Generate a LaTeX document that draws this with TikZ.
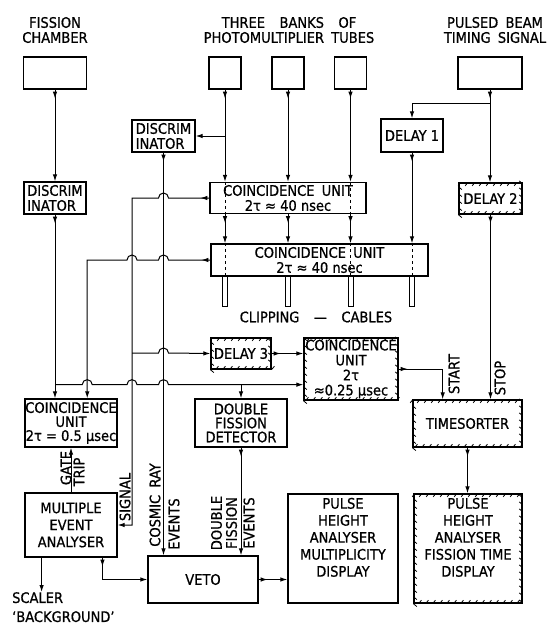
\documentclass[tikz,border=0pt]{standalone}
\usepackage{fontspec}
\setmainfont{DejaVu Sans Condensed}[FakeBold=0.8]
\usetikzlibrary{arrows.meta, calc, decorations.markings, decorations.pathreplacing}

\tikzset{
  blk/.style={draw, line width=1.3pt, rectangle, inner sep=1pt, align=center, font=\fontsize{14.5}{15}\selectfont},
  hatch/.style={decorate, line width=0.8pt, decoration={border, segment length=7pt, amplitude=-4.5pt, angle=50}},
  sig/.style={line width=1pt, -{Latex[length=7pt,width=4.5pt]}},
  flow/.style={sig, postaction={decorate}, decoration={markings, mark=at position 9pt with {\arrow{Latex[length=7pt,width=4.5pt]}}}},
  txt/.style={inner sep=0pt, align=center, font=\fontsize{14.5}{15}\selectfont},
}

\begin{document}
\begin{tikzpicture}[x=1pt, y=-1pt]
\useasboundingbox (0,0) rectangle (554,624);

% headings
\node[txt] (fclbl) at (55,30) {FISSION\\CHAMBER};
\node[txt] (pmlbl) at (289,30) {THREE\quad BANKS\quad OF\\PHOTOMULTIPLIER\enspace TUBES};
\node[txt] (pblbl) at (495,30) {PULSED\enspace BEAM\\TIMING\enspace SIGNAL};

% blocks
\node[blk, minimum width=63pt, minimum height=32pt] (fc) at (55,73) {};
\node[blk, minimum width=32pt, minimum height=32pt] (pm1) at (225,73) {};
\node[blk, minimum width=32pt, minimum height=32pt] (pm2) at (288,73) {};
\node[blk, minimum width=32pt, minimum height=32pt] (pm3) at (350.5,73) {};
\node[blk, minimum width=64pt, minimum height=32pt] (pulse) at (490,73) {};
\node[blk, minimum width=63pt, minimum height=32pt, align=left] (du) at (163.5,136) {DISCRIM\\INATOR};
\node[blk, minimum width=62pt, minimum height=32pt, align=left] (dl) at (55,198) {DISCRIM\\INATOR};
\node[blk, minimum width=62pt, minimum height=33pt] (d1) at (412,135.5) {DELAY 1};
\node[blk, minimum width=156pt, minimum height=31pt] (c1) at (288,198) {COINCIDENCE\enspace UNIT\\2τ ≈ 40 nsec};
\node[blk, minimum width=63pt, minimum height=31pt] (d2) at (490.5,198.5) {DELAY 2};
\node[blk, minimum width=217pt, minimum height=32pt] (c2) at (319.5,260) {COINCIDENCE\enspace UNIT\\2τ ≈ 40 nsec};
\node[blk, minimum width=60pt, minimum height=31pt] (d3) at (241,353.5) {DELAY 3};
\node[blk, minimum width=94pt, minimum height=62pt, inner sep=0pt] (cr) at (351,369) {COINCIDENCE\\UNIT\\2τ\\≈0.25 µsec};
\node[blk, minimum width=92pt, minimum height=48pt, inner sep=0pt, font=\fontsize{14.5}{14}\selectfont] (cl) at (71,423) {COINCIDENCE\\UNIT\\2τ = 0.5 µsec};
\node[blk, minimum width=92pt, minimum height=48pt, inner sep=0pt, font=\fontsize{14.5}{14}\selectfont] (dfd) at (241,423) {DOUBLE\\FISSION\\DETECTOR};
\node[blk, minimum width=109pt, minimum height=47pt] (ts) at (467.5,423.5) {TIMESORTER};
\node[blk, minimum width=92pt, minimum height=64pt, font=\fontsize{14.5}{17}\selectfont] (mea) at (71,525) {MULTIPLE\\EVENT\\ANALYSER};
\node[blk, minimum width=110pt, minimum height=47pt] (veto) at (203,579.5) {VETO};
\node[blk, minimum width=110pt, minimum height=109pt] (pha1) at (343,548.5) {};
\node[blk, minimum width=108pt, minimum height=109pt] (pha2) at (468,548.5) {};
\node[txt, font=\fontsize{14.5}{17}\selectfont] (pha1txt) at ($(pha1.north)+(0,44)$) {PULSE\\HEIGHT\\ANALYSER\\MULTIPLICITY\\DISPLAY};
\node[txt, font=\fontsize{14.5}{17}\selectfont] (pha2txt) at ($(pha2.north)+(0,44)$) {PULSE\\HEIGHT\\ANALYSER\\FISSION TIME\\DISPLAY};
\node[txt, align=left, anchor=north west, font=\fontsize{14.5}{19}\selectfont] (scaler) at (12,592) {SCALER\\‘BACKGROUND’};
\node[txt] (clip) at (316,317) {CLIPPING\quad —\quad CABLES};

% hatched borders
\foreach \bx in {d2, d3, cr, ts, pha2}
  \draw[hatch] (\bx.south west) rectangle (\bx.north east);

% rotated labels
\node[txt, rotate=90] (gate) at (66,468) {GATE};
\node[txt, rotate=90] (trip) at (79,472) {TRIP};
\node[txt, rotate=90] (signal) at (125,497) {SIGNAL};
\node[txt, rotate=90] (cosmic) at (155,505) {COSMIC\enspace RAY};
\node[txt, rotate=90] (evc) at (174,524) {EVENTS};
\node[txt, rotate=90] (dbl) at (224,523) {DOUBLE\\FISSION};
\node[txt, rotate=90] (evd) at (249,523) {EVENTS};
\node[txt, rotate=90] (start) at (454,374) {START};
\node[txt, rotate=90] (stop) at (500,378) {STOP};

% junctions
\coordinate (pb) at ($(pulse.south)+(0,14)$);
\coordinate (fs) at ($(dl.south)+(0,170)$);
\coordinate (sigj) at (132,353);
\coordinate (cin) at ($(cl.north west)!0.674!(cl.north east)$);
\coordinate (tsin) at ($(ts.north west)!0.275!(ts.north east)$);
\coordinate (mv) at ($(mea.south west)!0.837!(mea.south east)$);
\coordinate (ms) at ($(mea.south west)!0.185!(mea.south east)$);

% photomultipliers and coincidence units
\foreach \bx in {pm1, pm2, pm3} {
  \draw[flow] (\bx.south) -- (\bx.south |- c1.north);
  \draw[flow] (\bx.south |- c1.south) -- (\bx.south |- c2.north);
}
\foreach \bx in {pm1, pm3}
  \draw[dashed, line width=0.6pt] (\bx.south |- c1.north) -- (\bx.south |- c1.south);
\foreach \bx in {pm1, pm3, d1}
  \draw[dashed, line width=0.6pt] (\bx.south |- c2.north) -- (\bx.south |- c2.south);
\foreach \bx in {pm1, pm2, pm3, d1}
  \draw[line width=0.8pt] ($(\bx.south |- c2.south)+(-2.5,0)$) rectangle ++(5,30);
\draw[sig] (pm1.south |- du.east) -- (du.east);
\draw[flow] (du.south) -- (du.south |- veto.north);

% beam timing
\draw[flow] (pulse.south) -- (pulse.south |- d2.north);
\draw[sig] (pb) -| (d1.north);
\draw[flow] (d1.south) -- (d1.south |- c2.north);
\draw[flow] (d2.south) -- (d2.south |- ts.north);
\draw[flow] (ts.south) -- (ts.south |- pha2.north);
\draw[flow] (cr.east) -| (tsin);

% fission chamber
\draw[flow] (fc.south) -- (dl.north);
\draw[flow] (dl.south) -- (dl.south |- cl.north);
\draw[sig] (fs) -- ($(cin |- fs)+(-5,0)$) arc[start angle=180, end angle=360, radius=5]
  -- ($(sigj |- fs)+(-5,0)$) arc[start angle=180, end angle=360, radius=5]
  -- ($(du.south |- fs)+(-5,0)$) arc[start angle=180, end angle=360, radius=5]
  -- (cr.west |- fs);
\draw[sig] (dfd.north |- fs) -- (dfd.north);
\draw[flow] (dfd.south) -- (dfd.south |- veto.north);

% coincidence outputs
\draw[flow] (c1.west) -- ($(du.south |- c1.west)+(5,0)$) arc[start angle=0, end angle=-180, radius=5]
  -- (sigj |- c1.west) -- (sigj |- mea.east) -- (mea.east);
\draw[flow] (c2.west) -- ($(du.south |- c2.west)+(5,0)$) arc[start angle=0, end angle=-180, radius=5]
  -- ($(sigj |- c2.west)+(5,0)$) arc[start angle=0, end angle=-180, radius=5]
  -- (cin |- c2.west) -- (cin);
\draw[sig] (sigj) -- ($(du.south |- sigj)+(-5,0)$) arc[start angle=180, end angle=360, radius=5] -- (d3.west);
\draw[flow] (d3.east) -- (cr.west |- d3.east);

% analysers
\draw[sig] (mea.north) -- (cl.south);
\draw[flow] (mv) |- (veto.west);
\draw[sig] (ms) -- (ms |- scaler.north);
\draw[flow] (veto.east) -- (veto.east -| pha1.west);
\end{tikzpicture}
\end{document}
